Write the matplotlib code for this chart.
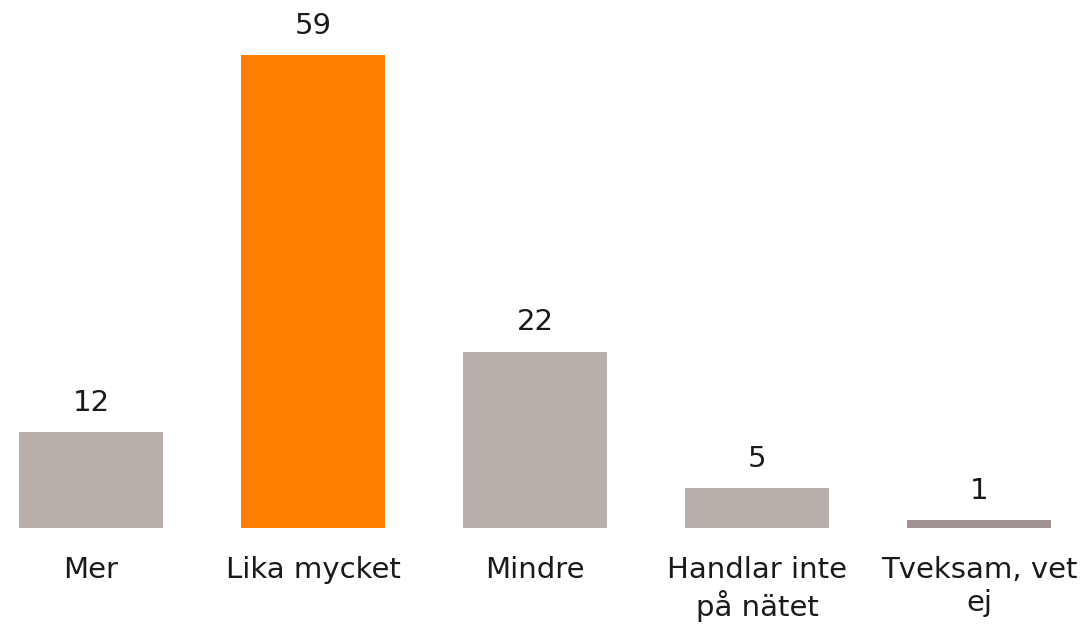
import matplotlib
matplotlib.use('Agg')
import matplotlib.pyplot as plt

categories = ['Mer', 'Lika mycket', 'Mindre', 'Handlar inte\npå nätet', 'Tveksam, vet\nej']
values = [12, 59, 22, 5, 1]
colors = ['#B8AFAA', '#FF7F00', '#B8AFAA', '#B8AFAA', '#A09391']

plt.rcParams['font.family'] = ['DejaVu Sans']

fig = plt.figure(figsize=(10.82, 6.25), dpi=100)
ax = fig.add_axes([0, 97 / 625, 1, 473 / 625 * 65.86 / 59])

x = range(len(categories))
bars = ax.bar(x, values, width=0.65, color=colors)

for b, v in zip(bars, values):
    ax.annotate(str(v), (b.get_x() + b.get_width() / 2, v), xytext=(0, 11),
                textcoords='offset points', ha='center', va='bottom',
                fontsize=21, color='#1a1a1a')

ax.set_xlim(-0.41, 4.464)
ax.set_ylim(0, 65.86)
ax.set_xticks(list(x))
ax.set_xticklabels(categories, fontsize=21, color='#1a1a1a', linespacing=1.25)
ax.tick_params(axis='x', length=0, pad=20)
ax.set_yticks([])
for s in ax.spines.values():
    s.set_visible(False)

fig.savefig('out.png', dpi=100)
